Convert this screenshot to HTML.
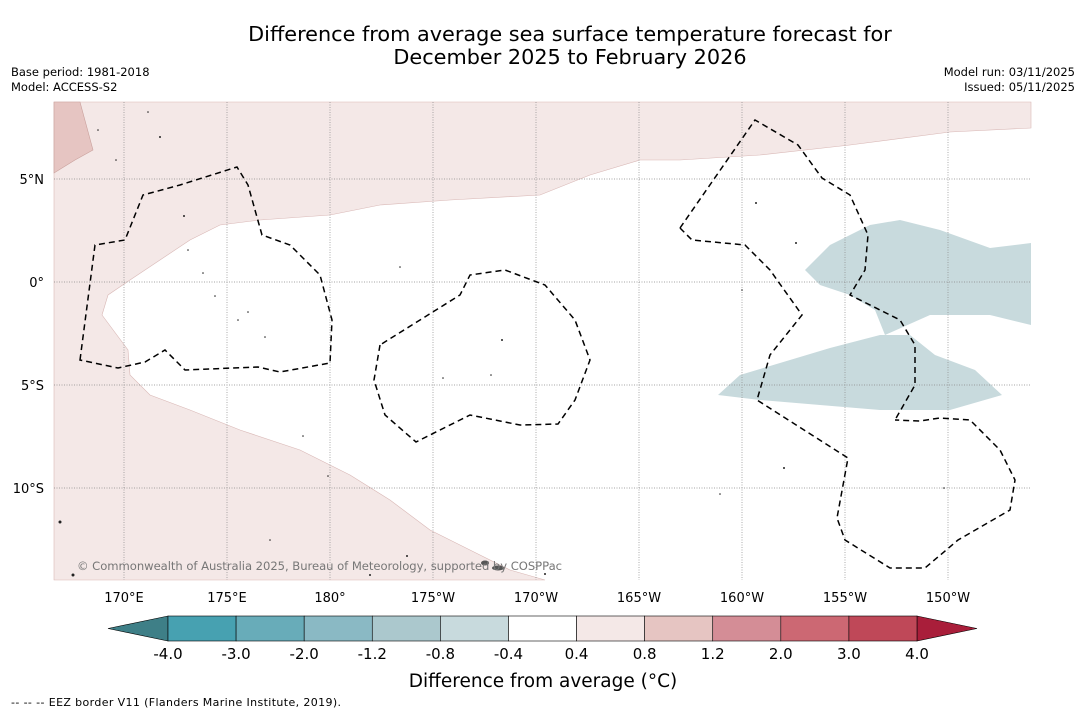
<!DOCTYPE html>
<html><head><meta charset="utf-8"><style>
body{margin:0;background:#fff;font-family:"DejaVu Sans","Liberation Sans",sans-serif;}
svg{display:block}
</style></head><body>
<svg width="1085" height="713" viewBox="0 0 1085 713">
<text x="570" y="41" font-size="20.8" text-anchor="middle">Difference from average sea surface temperature forecast for</text>
<text x="570" y="64" font-size="20.8" text-anchor="middle">December 2025 to February 2026</text>
<text x="11" y="76" font-size="11.5">Base period: 1981-2018</text>
<text x="11" y="91" font-size="11.5">Model: ACCESS-S2</text>
<text x="1075" y="76" font-size="11.5" text-anchor="end">Model run: 03/11/2025</text>
<text x="1075" y="91" font-size="11.5" text-anchor="end">Issued: 05/11/2025</text>
<g>
<rect x="54" y="102" width="977" height="478" fill="#fff"/>
<path fill="#f4e8e7" stroke="#d9b8b6" stroke-width="0.6" d="M54,102 L1031,102 L1031,128 L950,132 L850,145 L760,155 L680,160 L640,160 L590,175 L540,195 L450,200 L380,205 L330,215 L260,220 L220,225 L190,240 L160,260 L130,280 L108,295 L102,315 L128,350 L130,375 L150,395 L190,410 L240,430 L300,450 L350,475 L390,500 L430,530 L470,550 L510,570 L545,580 L54,580Z"/>
<path fill="#e6c5c2" stroke="#c9a09c" stroke-width="0.6" d="M54,102 L80,102 L93,150 L75,160 L54,173Z"/>
<path fill="#c8dadd" d="M805,270 L830,245 L870,225 L900,220 L940,230 L990,248 L1031,243 L1031,325 L990,315 L930,315 L885,335 L875,310 L850,295 L820,285Z"/>
<path fill="#c8dadd" d="M718,395 L740,375 L790,360 L830,348 L880,335 L910,335 L935,355 L975,370 L1002,395 L950,410 L880,410 L820,405 L760,400Z"/>
<g stroke="#888" stroke-width="0.7" stroke-dasharray="1,1.5">
<line x1="124" y1="102" x2="124" y2="580"/><line x1="227" y1="102" x2="227" y2="580"/><line x1="330" y1="102" x2="330" y2="580"/><line x1="433" y1="102" x2="433" y2="580"/><line x1="536" y1="102" x2="536" y2="580"/><line x1="639" y1="102" x2="639" y2="580"/><line x1="742" y1="102" x2="742" y2="580"/><line x1="845" y1="102" x2="845" y2="580"/><line x1="948" y1="102" x2="948" y2="580"/>
<line x1="54" y1="179" x2="1031" y2="179"/><line x1="54" y1="282" x2="1031" y2="282"/><line x1="54" y1="385" x2="1031" y2="385"/><line x1="54" y1="488" x2="1031" y2="488"/>
</g>
<g fill="none" stroke="#000" stroke-width="1.5" stroke-dasharray="6,4">
<path d="M80,360 L95,245 L125,240 L143,195 L180,185 L237,167 L248,185 L262,235 L290,245 L320,275 L332,320 L330,363 L280,372 L258,367 L185,370 L165,350 L145,362 L118,368 Z"/>
<path d="M380,345 L374,380 L385,415 L416,442 L470,415 L520,425 L558,424 L575,400 L590,360 L575,320 L545,285 L505,270 L470,275 L460,295 L420,320 Z"/>
<path d="M680,228 L755,120 L798,145 L822,178 L850,195 L868,235 L865,270 L850,295 L900,320 L915,345 L915,385 L895,420"/>
<path d="M680,228 L692,240 L745,245 L770,270 L802,315 L770,355 L757,400 L848,458 L837,518 L845,540 L890,568 L925,568 L958,540 L1010,510 L1015,480 L1000,450 L970,420 L940,418 L920,421 L895,420"/>
</g>
<g fill="#222">
<circle cx="148" cy="112" r="0.8"/><circle cx="160" cy="137" r="1"/><circle cx="98" cy="130" r="0.8"/><circle cx="116" cy="160" r="0.8"/><circle cx="184" cy="216" r="1"/><circle cx="188" cy="250" r="0.8"/><circle cx="203" cy="273" r="0.8"/><circle cx="215" cy="296" r="0.8"/><circle cx="248" cy="312" r="0.8"/><circle cx="238" cy="320" r="0.8"/><circle cx="265" cy="337" r="0.8"/><circle cx="400" cy="267" r="0.8"/><circle cx="502" cy="340" r="1"/><circle cx="443" cy="378" r="0.8"/><circle cx="491" cy="375" r="0.8"/><circle cx="756" cy="203" r="1"/><circle cx="796" cy="243" r="1"/><circle cx="742" cy="290" r="0.8"/><circle cx="784" cy="468" r="1"/><circle cx="720" cy="494" r="0.8"/><circle cx="944" cy="488" r="0.8"/><circle cx="60" cy="522" r="1.5"/><circle cx="73" cy="575" r="1.5"/><circle cx="270" cy="540" r="0.8"/><circle cx="407" cy="556" r="1"/><circle cx="303" cy="436" r="0.8"/><circle cx="328" cy="476" r="0.8"/>
<ellipse cx="498" cy="568" rx="6" ry="2.5" fill="#555"/><ellipse cx="485" cy="563" rx="4" ry="2.5" fill="#555"/><circle cx="545" cy="574" r="1"/><circle cx="370" cy="575" r="1"/>
</g>
<text x="77" y="570" font-size="11.6" fill="#777" textLength="485">© Commonwealth of Australia 2025, Bureau of Meteorology, supported by COSPPac</text>
</g>
<g font-size="13">
<text x="44" y="184" text-anchor="end">5°N</text><text x="44" y="287" text-anchor="end">0°</text><text x="44" y="390" text-anchor="end">5°S</text><text x="44" y="493" text-anchor="end">10°S</text>
</g>
<g font-size="13" text-anchor="middle">
<text x="124" y="602">170°E</text><text x="227" y="602">175°E</text><text x="330" y="602">180°</text><text x="433" y="602">175°W</text><text x="536" y="602">170°W</text><text x="639" y="602">165°W</text><text x="742" y="602">160°W</text><text x="845" y="602">155°W</text><text x="948" y="602">150°W</text>
</g>
<g id="cbar"></g>
<text x="543" y="687" font-size="18.5" text-anchor="middle">Difference from average (°C)</text>
<text x="11" y="706" font-size="11" textLength="330">--  --  -- EEZ border V11 (Flanders Marine Institute, 2019).</text>
</svg>
<script>
const levels=["-4.0","-3.0","-2.0","-1.2","-0.8","-0.4","0.4","0.8","1.2","2.0","3.0","4.0"];
const binColors=["#47a1b1","#68acb9","#8ab9c4","#abc8cd","#c8dadd","#ffffff","#f4e8e7","#e6c5c2","#d48d96","#cc6873","#bf4858"];
const ns="http://www.w3.org/2000/svg";
const g=document.getElementById('cbar');
const x0=168,x1=917,y=616,h=25,w=(x1-x0)/binColors.length;
function mk(t,a){const e=document.createElementNS(ns,t);for(const k in a)e.setAttribute(k,a[k]);g.appendChild(e);return e;}
let L=mk('polygon',{points:`${x0},${y} 108,${y+h/2} ${x0},${y+h}`,fill:'#3e7f87',stroke:'#000','stroke-width':0.6});


let R=mk('polygon',{points:`${x1},${y} 977,${y+h/2} ${x1},${y+h}`,fill:'#a91e3a',stroke:'#000','stroke-width':0.6});


binColors.forEach((c,i)=>{
 const r=mk('rect',{x:x0+i*w,y:y,width:w,height:h,fill:c,stroke:'#000','stroke-width':0.6});
 
 
});
levels.forEach((l,i)=>{
 const t=mk('text',{x:x0+i*w,y:659,'font-size':15,'text-anchor':'middle'});
 t.textContent=l;
 
 
});
</script>
</body></html>
